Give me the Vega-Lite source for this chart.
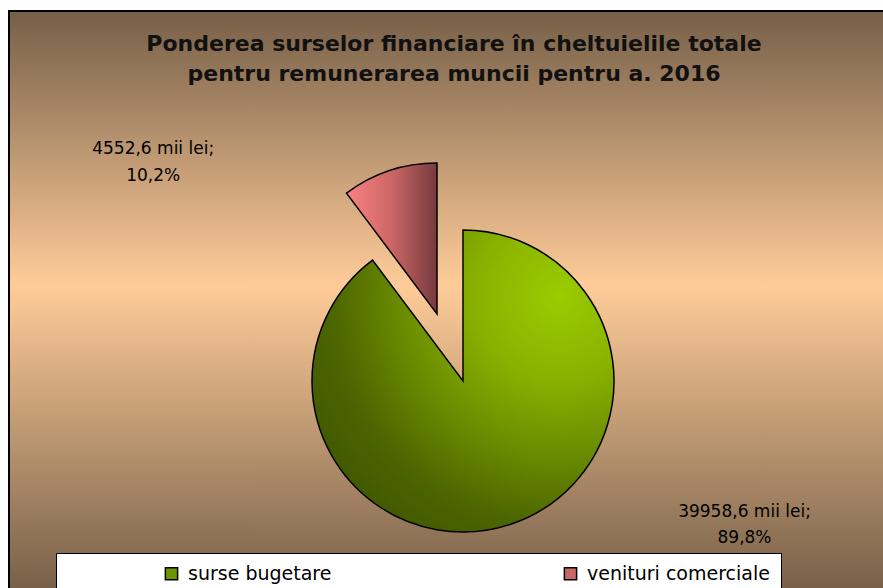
{
  "$schema": "https://vega.github.io/schema/vega-lite/v6.json",
  "width": 883,
  "height": 588,
  "autosize": {"type": "fit", "contains": "padding"},
  "padding": {"left": 8, "top": 10, "right": -35, "bottom": -164},
  "background": "white",
  "config": {"view": {"stroke": null}, "font": "DejaVu Sans"},
  "title": {
    "text": ["Ponderea surselor financiare în cheltuielile totale", "pentru remunerarea muncii pentru a. 2016"],
    "font": "DejaVu Sans",
    "fontSize": 22,
    "fontWeight": "bold",
    "color": "#111111",
    "lineHeight": 30,
    "anchor": "middle",
    "offset": -76,
    "dx": -9
  },
  "datasets": {
    "surse": [
      {"sursa": "surse bugetare", "valoare": 39958.6, "eticheta": ["39958,6 mii lei;", "89,8%"]},
      {"sursa": "venituri comerciale", "valoare": 4552.6, "eticheta": ["4552,6 mii lei;", "10,2%"]}
    ],
    "fundal": [{}]
  },
  "data": {"name": "surse"},
  "layer": [
    {
      "data": {"name": "fundal"},
      "mark": {
        "type": "rect",
        "stroke": "black",
        "strokeWidth": 2,
        "fill": {
          "gradient": "linear", "x1": 0, "y1": 0, "x2": 0, "y2": 1,
          "stops": [
            {"offset": 0, "color": "#765f48"},
            {"offset": 0.371, "color": "#ffcc99"},
            {"offset": 0.782, "color": "#776049"},
            {"offset": 1, "color": "#6a5540"}
          ]
        }
      },
      "encoding": {}
    },
    {
      "mark": {
        "type": "arc",
        "radius": 151,
        "stroke": "black",
        "strokeWidth": 1.5,
        "fill": {
          "gradient": "radial", "x1": 0.82, "y1": 0.22, "r1": 0, "x2": 0.82, "y2": 0.22, "r2": 0.95,
          "stops": [
            {"offset": 0, "color": "#9acc00"},
            {"offset": 0.3, "color": "#88b000"},
            {"offset": 0.55, "color": "#6a8c00"},
            {"offset": 0.8, "color": "#4b6500"},
            {"offset": 1, "color": "#415800"}
          ]
        }
      },
      "encoding": {
        "theta": {"field": "valoare", "type": "quantitative", "stack": true},
        "detail": {"field": "sursa", "type": "nominal"},
        "order": {"field": "sursa", "type": "ordinal", "sort": "ascending"},
        "opacity": {"condition": {"test": "datum.sursa === 'surse bugetare'", "value": 1}, "value": 0}
      }
    },
    {
      "mark": {
        "type": "arc",
        "radius": 151,
        "xOffset": -26,
        "yOffset": -67,
        "stroke": "black",
        "strokeWidth": 1.5,
        "fill": {
          "gradient": "linear", "x1": 0, "y1": 0, "x2": 1, "y2": 0,
          "stops": [
            {"offset": 0, "color": "#fa8282"},
            {"offset": 0.5, "color": "#cc6666"},
            {"offset": 1, "color": "#763a3e"}
          ]
        }
      },
      "encoding": {
        "theta": {"field": "valoare", "type": "quantitative", "stack": true},
        "detail": {"field": "sursa", "type": "nominal"},
        "order": {"field": "sursa", "type": "ordinal", "sort": "ascending"},
        "opacity": {"condition": {"test": "datum.sursa === 'venituri comerciale'", "value": 1}, "value": 0}
      }
    },
    {
      "mark": {"type": "text", "radius": 387, "thetaOffset": -0.607, "font": "DejaVu Sans", "fontSize": 17, "lineHeight": 27, "align": "center", "baseline": "middle", "color": "black"},
      "encoding": {
        "theta": {"field": "valoare", "type": "quantitative", "stack": true},
        "detail": {"field": "sursa", "type": "nominal"},
        "order": {"field": "sursa", "type": "ordinal", "sort": "ascending"},
        "text": {"field": "eticheta"},
        "opacity": {"condition": {"test": "datum.sursa === 'venituri comerciale'", "value": 1}, "value": 0}
      }
    },
    {
      "mark": {"type": "text", "radius": 310.5, "thetaOffset": -0.814, "font": "DejaVu Sans", "fontSize": 17, "lineHeight": 26, "align": "center", "baseline": "middle", "color": "black"},
      "encoding": {
        "theta": {"field": "valoare", "type": "quantitative", "stack": true},
        "detail": {"field": "sursa", "type": "nominal"},
        "order": {"field": "sursa", "type": "ordinal", "sort": "ascending"},
        "text": {"field": "eticheta"},
        "opacity": {"condition": {"test": "datum.sursa === 'surse bugetare'", "value": 1}, "value": 0}
      }
    },
    {
      "mark": {"type": "arc", "radius": 151, "opacity": 0},
      "encoding": {
        "theta": {"field": "valoare", "type": "quantitative", "stack": true},
        "order": {"field": "sursa", "type": "ordinal", "sort": "ascending"},
        "color": {
          "field": "sursa",
          "type": "nominal",
          "scale": {"domain": ["surse bugetare", "venituri comerciale"], "range": ["#6f9600", "#c96666"]},
          "legend": {
            "orient": "none",
            "legendX": 47,
            "legendY": 542,
            "direction": "horizontal",
            "columns": 2,
            "columnPadding": 229,
            "title": " ",
            "titleOrient": "left",
            "titlePadding": 95,
            "titleFontSize": 19,
            "padding": 11,
            "fillColor": "white",
            "strokeColor": "black",
            "symbolType": "square",
            "symbolSize": 150,
            "symbolStrokeColor": "black",
            "symbolStrokeWidth": 1.5,
            "symbolOpacity": 1,
            "labelFont": "DejaVu Sans",
            "labelFontSize": 19,
            "labelColor": "black",
            "labelOffset": 7,
            "labelLimit": 600
          }
        }
      }
    }
  ]
}
